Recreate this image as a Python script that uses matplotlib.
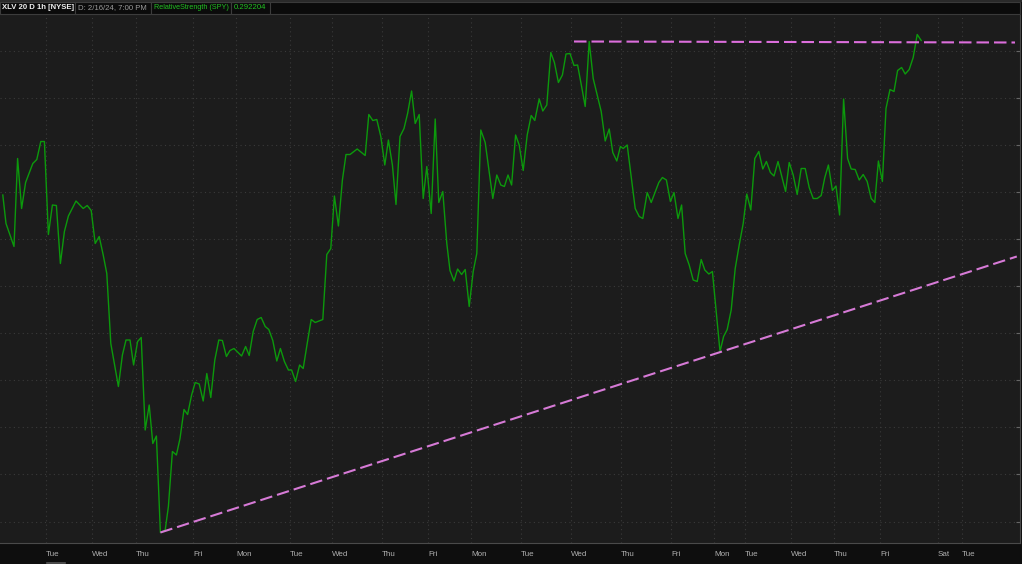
import matplotlib
matplotlib.use('Agg')
import matplotlib.pyplot as plt
import numpy as np
from matplotlib.patches import Rectangle

W, H = 1022, 564

# XLV relative strength vs SPY, 1h bars (x = bar position, y = RS value)
hours = [0.7, 1.5, 3.5, 4.4, 5.4, 6.4, 8.2, 9.2, 10.2, 11.1, 12.1, 13.1, 14.1, 15.1, 16.1, 17.1,
         19.0, 20.8, 21.8, 22.8, 23.8, 24.8, 25.8, 26.7, 27.7, 29.6, 30.6, 31.5, 32.5, 33.4, 34.4,
         35.3, 36.3, 37.3, 38.2, 39.1, 40.1, 41.3, 42.1, 43.1, 44.1, 45.0, 46.0, 46.9, 47.9, 48.8,
         49.8, 50.8, 51.7, 52.7, 53.7, 54.7, 55.6, 56.6, 57.5, 58.5, 60.4, 61.4, 62.3, 63.3, 64.3,
         65.3, 66.3, 67.2, 68.2, 69.2, 70.1, 71.1, 72.1, 72.9, 73.9, 74.9, 75.8, 76.8, 77.8, 78.8,
         80.7, 81.7, 82.7, 83.6, 84.6, 85.6, 86.5, 87.5, 89.3, 91.3, 92.2, 93.2, 94.2, 95.2, 96.2,
         97.1, 98.1, 99.0, 100.0, 101.0, 101.9, 102.9, 103.8, 104.8, 105.8, 106.7, 107.8, 108.8,
         109.7, 110.7, 111.7, 112.5, 113.5, 114.4, 115.4, 116.3, 117.3, 118.3, 119.2, 120.2, 121.3,
         123.2, 124.2, 125.2, 126.1, 127.0, 127.9, 128.9, 129.8, 130.8, 131.8, 132.8, 133.7, 134.8,
         135.7, 136.7, 137.7, 138.6, 139.6, 140.6, 141.5, 142.5, 143.5, 144.4, 145.4, 146.3, 147.3,
         148.3, 149.3, 150.3, 151.3, 152.3, 153.2, 154.2, 155.1, 155.8, 156.8, 158.8, 159.8, 160.7,
         161.8, 162.8, 164.7, 165.6, 166.6, 167.6, 168.5, 169.5, 170.4, 171.3, 172.3, 173.3, 174.3,
         175.3, 176.2, 177.2, 178.1, 180.0, 180.9, 181.8, 182.8, 183.8, 184.8, 185.8, 186.7, 187.7,
         188.7, 189.7, 190.7, 191.6, 192.6, 193.5, 194.5, 196.4, 197.3, 198.3, 199.3, 200.3, 201.3,
         202.3, 203.3, 204.3, 205.3, 206.2, 207.1, 208.1, 209.0, 209.9, 210.9, 211.9, 212.8, 213.8,
         214.8, 215.8, 216.8, 217.8, 218.7, 219.6, 220.6, 221.5, 222.5, 223.5, 224.4, 225.4, 226.3,
         227.3, 228.3, 229.3, 230.3]

rs = [0.28911, 0.28854, 0.28808, 0.28984, 0.28884, 0.28936, 0.28974, 0.28982, 0.29018, 0.29018,
      0.28832, 0.28891, 0.28890, 0.28774, 0.28838, 0.28869, 0.28899, 0.28884, 0.28890, 0.28880,
      0.28814, 0.28828, 0.28791, 0.28754, 0.28614, 0.28528, 0.28591, 0.28621, 0.28621, 0.28571,
      0.28618, 0.28626, 0.28441, 0.28491, 0.28414, 0.28429, 0.28236, 0.28241, 0.28288, 0.28398,
      0.28391, 0.28424, 0.28482, 0.28472, 0.28511, 0.28536, 0.28533, 0.28499, 0.28554, 0.28506,
      0.28581, 0.28621, 0.28620, 0.28588, 0.28600, 0.28604, 0.28589, 0.28608, 0.28590, 0.28638,
      0.28662, 0.28666, 0.28648, 0.28642, 0.28620, 0.28579, 0.28604, 0.28578, 0.28561, 0.28561,
      0.28538, 0.28571, 0.28564, 0.28614, 0.28662, 0.28656, 0.28662, 0.28792, 0.28804, 0.28909,
      0.28849, 0.28941, 0.28992, 0.28992, 0.29003, 0.28990, 0.29072, 0.29060, 0.29062, 0.29028,
      0.28971, 0.29021, 0.28971, 0.28892, 0.29028, 0.29044, 0.29074, 0.29119, 0.29054, 0.29072,
      0.28904, 0.28968, 0.28874, 0.29063, 0.28896, 0.28918, 0.28814, 0.28760, 0.28739, 0.28763,
      0.28752, 0.28762, 0.28688, 0.28758, 0.28794, 0.29041, 0.29016, 0.28904, 0.28951, 0.28931,
      0.28928, 0.28951, 0.28931, 0.29031, 0.29011, 0.28960, 0.29031, 0.29070, 0.29060, 0.29103,
      0.29079, 0.29091, 0.29196, 0.29176, 0.29136, 0.29151, 0.29193, 0.29194, 0.29170, 0.29171,
      0.29128, 0.29088, 0.29218, 0.29144, 0.29111, 0.29078, 0.29019, 0.29043, 0.28996, 0.28979,
      0.29008, 0.29004, 0.29011, 0.28884, 0.28868, 0.28864, 0.28916, 0.28896, 0.28936, 0.28946,
      0.28941, 0.28898, 0.28916, 0.28864, 0.28891, 0.28794, 0.28771, 0.28741, 0.28738, 0.28782,
      0.28761, 0.28753, 0.28758, 0.28598, 0.28628, 0.28642, 0.28681, 0.28764, 0.28811, 0.28854,
      0.28913, 0.28881, 0.28984, 0.28998, 0.28963, 0.28978, 0.28956, 0.28949, 0.28978, 0.28918,
      0.28976, 0.28951, 0.28912, 0.28964, 0.28964, 0.28926, 0.28904, 0.28904, 0.28910, 0.28946,
      0.28971, 0.28920, 0.28929, 0.28871, 0.29103, 0.28984, 0.28963, 0.28962, 0.28941, 0.28952,
      0.28938, 0.28904, 0.28896, 0.28979, 0.28938, 0.29084, 0.29122, 0.29118, 0.29160, 0.29166,
      0.29153, 0.29162, 0.29186, 0.29232, 0.29220]

day_pos = [11.5, 23, 34, 48.25, 59, 72.5, 83, 95.5, 107, 117.75, 130.25, 142.75, 155.25,
           167.75, 178.5, 186.25, 197.75, 208.5, 220, 234.5, 240.5]
day_names = ['Tue', 'Wed', 'Thu', 'Fri', 'Mon', 'Tue', 'Wed', 'Thu', 'Fri', 'Mon', 'Tue',
             'Wed', 'Thu', 'Fri', 'Mon', 'Tue', 'Wed', 'Thu', 'Fri', 'Sat', 'Tue']

# drawn trend lines
support_x = [40.1, 254.2]
support_y = [0.28236, 0.28788]
resist_x = [143.5, 253.75]
resist_y = [0.29218, 0.29216]

grid_levels = np.arange(0.29200, 0.28215, -0.000942)

fig = plt.figure(figsize=(W / 100, H / 100), dpi=100, facecolor='#0e0e0e')
ax = fig.add_axes([0, 21 / H, 1020 / W, 529 / H])
ax.set_facecolor('#1c1c1c')

ax.plot(hours, rs, color='#0c990c', lw=1.0, zorder=3)
ax.plot(support_x, support_y, color='#d67ad6', lw=1.5, dashes=(6, 2.4), zorder=4)
ax.plot(resist_x, resist_y, color='#dc6edc', lw=1.5, dashes=(6, 2.4), zorder=4)

ax.set_xlim(0, 255)
ax.set_ylim(0.28215, 0.29273)
ax.set_xticks(day_pos)
ax.set_xticklabels(day_names, ha='left', color='#b0b0b0', fontsize=5.8, family='Liberation Sans')
ax.set_yticks(grid_levels)
ax.tick_params(axis='x', length=0, pad=5.5)
ax.tick_params(axis='y', direction='in', length=3, color='#666666', left=False, right=True,
               labelleft=False, labelright=False)
ax.grid(True, color='#3a3a3a', lw=0.8, ls=(0, (1, 3)))
for s in ['top', 'left']:
    ax.spines[s].set_visible(False)
ax.spines['bottom'].set_color('#4a4a4a')
ax.spines['right'].set_color('#4a4a4a')

# header bar
fig.add_artist(Rectangle((0, 1 - 2 / H), 1, 2 / H, transform=fig.transFigure,
                         facecolor='#2a2a2a', edgecolor='none'))
fig.add_artist(Rectangle((0, 1 - 14 / H), 1020 / W, 12 / H, transform=fig.transFigure,
                         facecolor='#0b0b0b', edgecolor='#3a3a3a', lw=0.8))


def header_box(x0, x1, text, color, weight='normal', size=5.6):
    fig.add_artist(Rectangle((x0 / W, 1 - 13.5 / H), (x1 - x0) / W, 11.5 / H,
                             transform=fig.transFigure, facecolor='#0b0b0b',
                             edgecolor='#3c3c3c', lw=0.8, zorder=1))
    fig.text((x0 + 2.5) / W, 1 - 7.8 / H, text, color=color, fontsize=size, weight=weight,
             va='center', ha='left', family='Liberation Sans', zorder=2)


header_box(0, 75, 'XLV 20 D 1h [NYSE]', '#f0f0f0', 'bold')
header_box(75, 151, 'D: 2/16/24, 7:00 PM', '#9a9a9a')
header_box(151, 231, 'RelativeStrength (SPY)', '#22c022', size=5.2)
header_box(231, 270, '0.292204', '#22c022')

# small underline under the first day label
fig.add_artist(plt.Line2D([47 / W, 65 / W], [1.2 / H, 1.2 / H], transform=fig.transFigure,
                          color='#555555', lw=1.2))

fig.savefig('out.png', dpi=100, facecolor=fig.get_facecolor())
